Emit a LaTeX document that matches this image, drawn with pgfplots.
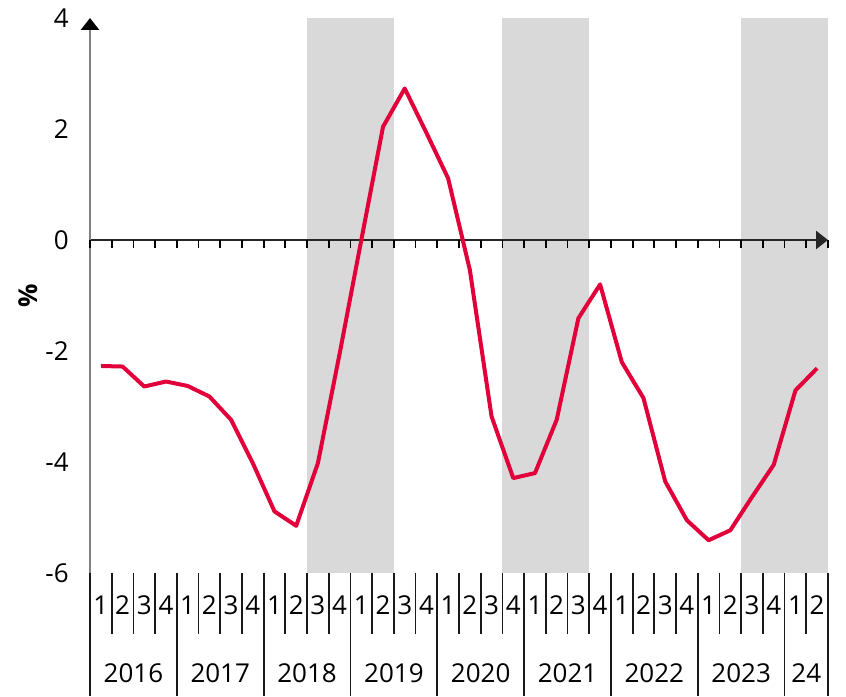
\documentclass[border=0pt]{standalone}
\usepackage{fontspec}
\setmainfont{Open Sans}
\usepackage{pgfplots}
\pgfplotsset{compat=1.18}
\usetikzlibrary{arrows.meta}

\definecolor{bandgray}{RGB}{217,217,217}
\definecolor{linered}{RGB}{226,0,58}
\definecolor{yaxgray}{RGB}{128,128,128}

\begin{document}
\begin{tikzpicture}
\fontsize{26}{30}\selectfont
\begin{axis}[
    set layers,
    width=738pt, height=555pt, scale only axis,
    xmin=0, xmax=34, ymin=-6, ymax=4,
    axis x line=middle, axis y line=left,
    x axis line style={line width=2.8pt, black!85, -{Triangle[length=12pt,width=18pt]}},
    y axis line style={line width=2.6pt, yaxgray, -{Triangle[length=12pt,width=18pt,black]}},
    xtick=\empty,
    ytick={-6,-4,-2,0,2,4}, yticklabels={-6,-4,-2,0,2,4},
    y tick style={draw=none},
    yticklabel style={anchor=east, inner sep=0pt, xshift=-19pt, font=\fontsize{26}{30}\selectfont},
    clip=false,
]
% shaded periods
\addplot[fill=bandgray, draw=none, on layer=axis background] coordinates {(10,-6) (14,-6) (14,4) (10,4)} --cycle;
\addplot[fill=bandgray, draw=none, on layer=axis background] coordinates {(19,-6) (23,-6) (23,4) (19,4)} --cycle;
\addplot[fill=bandgray, draw=none, on layer=axis background] coordinates {(30,-6) (34,-6) (34,4) (30,4)} --cycle;

% quarter ticks on the zero line
\pgfplotsinvokeforeach{0,...,34}{
  \draw[line width=1.8pt, black] (axis cs:#1,0) -- ([yshift=-8pt]axis cs:#1,0);
}

\addplot[linered, line width=4pt, line join=round, on layer=axis foreground] coordinates {
(0.5,-2.27) (1.5,-2.28) (2.5,-2.64) (3.5,-2.55) (4.5,-2.63) (5.5,-2.82)
(6.5,-3.24) (7.5,-4.02) (8.5,-4.89) (9.5,-5.15) (10.5,-4.02) (11.5,-2.05)
(12.5,0.00) (13.5,2.04) (14.5,2.73) (15.5,1.93) (16.5,1.11) (17.5,-0.54)
(18.5,-3.18) (19.5,-4.29) (20.5,-4.20) (21.5,-3.24) (22.5,-1.41) (23.5,-0.80)
(24.5,-2.20) (25.5,-2.85) (26.5,-4.35) (27.5,-5.05) (28.5,-5.41) (29.5,-5.23)
(30.5,-4.63) (31.5,-4.05) (32.5,-2.71) (33.5,-2.31)
};

% category axis below the plot
\pgfplotsinvokeforeach{0,...,33}{
  \draw[line width=1.8pt, black!90] (axis cs:#1,-6) -- ([yshift=-61pt]axis cs:#1,-6);
}
\pgfplotsinvokeforeach{0,4,...,32}{
  \draw[line width=1.8pt, black!90] (axis cs:#1,-6) -- ([yshift=-123pt]axis cs:#1,-6);
}
\draw[line width=1.8pt, black!90] (axis cs:34,-6) -- ([yshift=-123pt]axis cs:34,-6);
\pgfplotsinvokeforeach{0,4,...,32}{
  \node[anchor=center] at ([yshift=-32pt]axis cs:#1+0.5,-6) {1};
  \node[anchor=center] at ([yshift=-32pt]axis cs:#1+1.5,-6) {2};
}
\pgfplotsinvokeforeach{0,4,...,28}{
  \node[anchor=center] at ([yshift=-32pt]axis cs:#1+2.5,-6) {3};
  \node[anchor=center] at ([yshift=-32pt]axis cs:#1+3.5,-6) {4};
}
\node at ([yshift=-100pt]axis cs:2,-6) {2016};
\node at ([yshift=-100pt]axis cs:6,-6) {2017};
\node at ([yshift=-100pt]axis cs:10,-6) {2018};
\node at ([yshift=-100pt]axis cs:14,-6) {2019};
\node at ([yshift=-100pt]axis cs:18,-6) {2020};
\node at ([yshift=-100pt]axis cs:22,-6) {2021};
\node at ([yshift=-100pt]axis cs:26,-6) {2022};
\node at ([yshift=-100pt]axis cs:30,-6) {2023};
\node at ([yshift=-100pt]axis cs:33,-6) {24};

\node[rotate=90, font=\fontsize{26}{30}\selectfont\bfseries] at ([xshift=-62pt]rel axis cs:0,0.5) {\%};

\coordinate (sw) at (rel axis cs:0,0);
\coordinate (ne) at (rel axis cs:1,1);
\end{axis}
\pgfresetboundingbox
\path[use as bounding box] ([shift={(-90pt,-124pt)}]sw) rectangle ([shift={(18pt,18pt)}]ne);
\end{tikzpicture}
\end{document}
